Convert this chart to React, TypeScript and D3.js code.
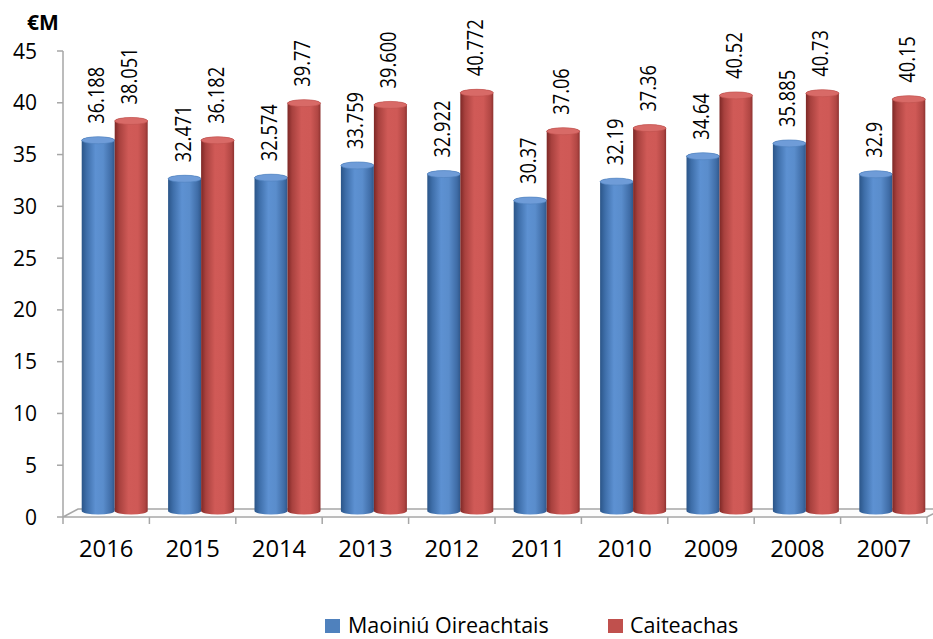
import React from "react";
import * as d3 from "d3";

const categories = ["2016", "2015", "2014", "2013", "2012", "2011", "2010", "2009", "2008", "2007"];
const maoiniu = [36.188, 32.471, 32.574, 33.759, 32.922, 30.37, 32.19, 34.64, 35.885, 32.9];
const caiteachas = [38.051, 36.182, 39.77, 39.6, 40.772, 37.06, 37.36, 40.52, 40.73, 40.15];
const maoiniuLabels = ["36.188", "32.471", "32.574", "33.759", "32.922", "30.37", "32.19", "34.64", "35.885", "32.9"];
const caiteachasLabels = ["38.051", "36.182", "39.77", "39.600", "40.772", "37.06", "37.36", "40.52", "40.73", "40.15"];
const yTicks = [0, 5, 10, 15, 20, 25, 30, 35, 40, 45];
const seriesNames = ["Maoiniú Oireachtais", "Caiteachas"];

const W = 933;
const H = 639;
const FONT = "'Open Sans', 'Noto Sans', sans-serif";

export default function App() {
  const x = d3.scaleBand<string>().domain(categories).range([63, 927]).padding(0);
  const yAxis = d3.scaleLinear().domain([0, 45]).range([517, 51]);
  const yBar = d3.scaleLinear().domain([0, 45]).range([515, 49]);
  const barW = 33;
  const shift = 8.5;
  const ry = 3.5;
  const bottomC = 511;

  const series = [
    { name: seriesNames[0], values: maoiniu, labels: maoiniuLabels, grad: "gBlue", top: "#6f9cd8", solid: "#4f81bd", off: -barW },
    { name: seriesNames[1], values: caiteachas, labels: caiteachasLabels, grad: "gRed", top: "#d86a67", solid: "#c0504d", off: 0 },
  ];

  const cyl = (x0: number, yt: number) => {
    const rx = barW / 2;
    return `M${x0},${yt} L${x0},${bottomC} A${rx},${ry} 0 0 0 ${x0 + barW},${bottomC} L${x0 + barW},${yt} A${rx},${ry} 0 0 0 ${x0},${yt} Z`;
  };

  const axisColor = "#a6a6a6";

  return (
    <svg width={W} height={H} style={{ position: "absolute", left: 0, top: 0, background: "#fff" }}>
      <defs>
        <linearGradient id="gBlue" x1="0" x2="1" y1="0" y2="0">
          <stop offset="0" stopColor="#2b5588" />
          <stop offset="0.15" stopColor="#3e6ea9" />
          <stop offset="0.42" stopColor="#5d91d2" />
          <stop offset="0.65" stopColor="#5a8dcc" />
          <stop offset="0.9" stopColor="#3f6ca6" />
          <stop offset="1" stopColor="#30578a" />
        </linearGradient>
        <linearGradient id="gRed" x1="0" x2="1" y1="0" y2="0">
          <stop offset="0" stopColor="#7d2826" />
          <stop offset="0.14" stopColor="#a8413e" />
          <stop offset="0.42" stopColor="#d05a57" />
          <stop offset="0.7" stopColor="#cf5956" />
          <stop offset="0.92" stopColor="#b04643" />
          <stop offset="1" stopColor="#8e3230" />
        </linearGradient>
      </defs>

      {/* floor */}
      <g stroke={axisColor} strokeWidth={1.5} fill="none">
        <path d={`M63,517 L927,517 L942,509 L78,509 Z`} fill="#fcfcfc" />
        {x.domain().map((c) => (
          <line key={c} x1={x(c)!} x2={x(c)!} y1={517} y2={524} />
        ))}
        <line x1={927} x2={927} y1={517} y2={524} />
        <line x1={63} x2={63} y1={yAxis(45)} y2={517} />
        {yTicks.map((t) => (
          <line key={t} x1={57} x2={63} y1={yAxis(t)} y2={yAxis(t)} />
        ))}
      </g>

      {/* y tick labels */}
      {yTicks.map((t) => (
        <text key={t} x={37} y={yAxis(t)} dy="0.36em" textAnchor="end" fontFamily={FONT} fontSize={21} fill="#000">
          {t}
        </text>
      ))}

      <text x={27} y={30} fontFamily={FONT} fontSize={21} fontWeight="bold" fill="#000">
        €M
      </text>

      {/* bars */}
      {categories.map((c, i) => {
        const cx = x(c)! + x.bandwidth() / 2 + shift;
        return (
          <g key={c}>
            {series.map((s) => {
              const x0 = cx + s.off;
              const yt = yBar(s.values[i]);
              return (
                <g key={s.name}>
                  <path d={cyl(x0, yt)} fill={`url(#${s.grad})`} />
                  <ellipse cx={x0 + barW / 2} cy={yt} rx={barW / 2} ry={ry} fill={s.top} stroke={s.solid} strokeWidth={0.6} />
                </g>
              );
            })}
            {series.map((s) => {
              const bc = cx + s.off + barW / 2;
              const yt = yBar(s.values[i]) - ry;
              return (
                <text
                  key={s.name + "l"}
                  transform={`translate(${bc + 6},${yt - 13}) rotate(-90) scale(0.83,1)`}
                  fontFamily={FONT}
                  fontSize={22}
                  fill="#000"
                >
                  {s.labels[i]}
                </text>
              );
            })}
          </g>
        );
      })}

      {/* category labels */}
      {categories.map((c) => (
        <text key={c} x={x(c)! + x.bandwidth() / 2} y={557} textAnchor="middle" fontFamily={FONT} fontSize={23.8} fill="#000">
          {c}
        </text>
      ))}

      {/* legend */}
      <rect x={325} y={619} width={15} height={14} fill="#4f81bd" />
      <text x={348} y={633} fontFamily={FONT} fontSize={21.5} fill="#000">
        {seriesNames[0]}
      </text>
      <rect x={608} y={619} width={15} height={14} fill="#c0504d" />
      <text x={630} y={633} fontFamily={FONT} fontSize={21.5} fill="#000">
        {seriesNames[1]}
      </text>
    </svg>
  );
}
